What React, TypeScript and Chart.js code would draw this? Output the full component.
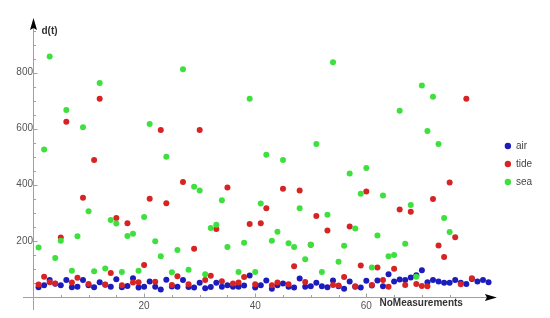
import { useEffect, useRef } from "react";
import { Chart, registerables } from "chart.js";

Chart.register(...registerables);

// d(t) per measurement number (index 0 -> measurement 1)
const airValues: (number | null)[] = [
  34, 41, 60, 47, 41, 60, 34, 36, 60, 41,
  34, 52, 43, 36, 63, 34, 39, 66, 33, 36,
  55, 36, 26, 61, 37, 36, 60, 35, 33, 50,
  31, 35, 50, 36, 41, 36, 36, 40, 76, 33,
  41, 58, 29, 41, 48, 36, 33, 65, 36, 38,
  50, 38, 34, 58, 38, 29, 55, 36, 33, 57,
  40, 58, 38, 81, 55, 62, 60, 69, 77, 95,
  52, 60, 55, 50, 50, 60, 50, 46, 64, 55,
  60, 52,
];
const tideValues: (number | null)[] = [
  44, 72, 52, 48, 212, 625, 51, 68, 354, 46,
  488, 707, 44, 85, 281, 41, 263, 51, 52, 114,
  350, 54, 595, 334, 42, 73, 410, 45, 172, 595,
  60, 75, 242, 56, 390, 48, 51, 71, 260, 45,
  263, 316, 41, 51, 386, 45, 109, 379, 53, 186,
  288, null, 237, 42, 40, 71, 251, 38, 112, 376,
  42, 105, 60, 36, 100, 312, 42, 304, 46, 39,
  38, 349, 183, 142, 408, 213, 45, 707, 66,
];
const seaValues: (number | null)[] = [
  176, 526, 858, 139, 200, 667, 93, 216, 605, 305,
  91, 763, 101, 274, 262, 89, 217, 225, 93, 285,
  617, 198, 145, 500, 88, 167, 812, 97, 393, 379,
  81, 246, 257, 345, 178, null, 89, 193, 707, 89,
  333, 507, 200, 232, 488, 191, 178, 316, 134, 186,
  545, 89, 293, 837, 125, 182, 440, 244, 368, 460,
  105, 219, 362, 145, 149, 664, 189, 328, 72, 754,
  592, 714, 545, 281, 231,
];

const seriesNames = ["air", "tide", "sea"];
const xTickLabels = [20, 40, 60];
const yTickLabels = [200, 400, 600, 800];
const xAxisTitle = "NoMeasurements";
const yAxisTitle = "d(t)";

const COLORS = ["rgb(28,28,188)", "rgb(214,36,36)", "rgb(62,224,62)"];

const toPoints = (vals: (number | null)[]) =>
  vals
    .map((v, i) => (v === null ? null : { x: i + 1, y: v }))
    .filter((p) => p !== null) as { x: number; y: number }[];

const axesPlugin = {
  id: "mmaAxes",
  beforeDatasetsDraw(chart: any) {
    const { ctx, chartArea: a, scales } = chart;
    const xs = scales.x;
    const ys = scales.y;
    const x0 = Math.round(xs.getPixelForValue(0)) + 0.5;
    const y0 = Math.round(ys.getPixelForValue(0)) + 0.5;
    ctx.save();
    ctx.strokeStyle = "#a0a0a0";
    ctx.lineWidth = 1;
    ctx.beginPath();
    ctx.moveTo(a.left, y0);
    ctx.lineTo(a.right - 8, y0);
    ctx.moveTo(x0, a.bottom);
    ctx.lineTo(x0, a.top + 8);
    ctx.stroke();
    // tick marks (inward)
    ctx.beginPath();
    xs.ticks.forEach((t: any) => {
      const v = t.value;
      if (v <= 0 || Math.abs(v % 5) > 1e-6 || v > 82) return;
      const px = Math.round(xs.getPixelForValue(v)) + 0.5;
      const len = v % 20 === 0 ? 4 : 2.5;
      ctx.moveTo(px, y0);
      ctx.lineTo(px, y0 - len);
    });
    ys.ticks.forEach((t: any) => {
      const v = t.value;
      if (v <= 0 || Math.abs(v % 50) > 1e-6 || v > 960) return;
      const py = Math.round(ys.getPixelForValue(v)) + 0.5;
      const len = v % 200 === 0 ? 4 : 2.5;
      ctx.moveTo(x0, py);
      ctx.lineTo(x0 + len, py);
    });
    ctx.stroke();
    // arrows
    ctx.fillStyle = "#000";
    ctx.beginPath();
    ctx.moveTo(a.right, y0);
    ctx.lineTo(a.right - 12, y0 - 3.5);
    ctx.lineTo(a.right - 10, y0);
    ctx.lineTo(a.right - 12, y0 + 3.5);
    ctx.closePath();
    ctx.fill();
    ctx.beginPath();
    ctx.moveTo(x0, a.top);
    ctx.lineTo(x0 - 3.5, a.top + 12);
    ctx.lineTo(x0, a.top + 10);
    ctx.lineTo(x0 + 3.5, a.top + 12);
    ctx.closePath();
    ctx.fill();
    // axis titles
    ctx.font = 'bold 10px "Liberation Sans", Arial, sans-serif';
    ctx.fillStyle = "#333";
    ctx.textBaseline = "middle";
    ctx.textAlign = "left";
    ctx.fillText(yAxisTitle, x0 + 8, a.top + 13);
    ctx.textAlign = "right";
    ctx.fillText(xAxisTitle, a.right - 34, y0 + 6);
    ctx.restore();
  },
};

export default function App() {
  const ref = useRef<HTMLCanvasElement | null>(null);
  useEffect(() => {
    if (!ref.current) return;
    const tickFont = { family: '"Liberation Sans", Arial, sans-serif', size: 10 };
    const chart = new Chart(ref.current, {
      type: "scatter",
      data: {
        datasets: [airValues, tideValues, seaValues].map((vals, i) => ({
          label: seriesNames[i],
          data: toPoints(vals),
          backgroundColor: COLORS[i],
          borderColor: COLORS[i],
          borderWidth: 0,
          pointRadius: 3,
          pointHoverRadius: 3,
          order: 3 - i,
        })),
      },
      plugins: [axesPlugin],
      options: {
        responsive: false,
        animation: false,
        layout: { padding: { left: 23, top: 18, bottom: 8, right: 8 } },
        plugins: {
          tooltip: { enabled: false },
          legend: {
            position: "right",
            labels: {
              usePointStyle: true,
              pointStyle: "circle",
              boxWidth: 6,
              boxHeight: 4.5,
              padding: 8,
              color: "#444",
              font: tickFont,
              sort: (a: any, b: any) => a.datasetIndex - b.datasetIndex,
            },
          },
        },
        scales: {
          x: {
            type: "linear",
            min: -1.8,
            max: 83.5,
            position: { y: 0 } as any,
            grid: { display: false, drawTicks: false },
            border: { display: false },
            ticks: {
              stepSize: 5,
              autoSkip: false,
              maxRotation: 0,
              padding: 3,
              color: "#555",
              font: tickFont,
              callback: (v: any) => (xTickLabels.includes(Number(v)) ? String(v) : ""),
            },
          },
          y: {
            type: "linear",
            min: -47,
            max: 995,
            position: { x: 0 } as any,
            grid: { display: false, drawTicks: false },
            border: { display: false },
            ticks: {
              stepSize: 50,
              autoSkip: false,
              padding: 2,
              color: "#555",
              font: tickFont,
              callback: (v: any) => (yTickLabels.includes(Number(v)) ? String(v) : ""),
            },
          },
        },
      },
    });
    return () => chart.destroy();
  }, []);
  return (
    <div style={{ position: "absolute", left: 0, top: 0, width: 550, height: 318, background: "#fff" }}>
      <canvas ref={ref} width={550} height={318} style={{ display: "block" }} />
    </div>
  );
}
